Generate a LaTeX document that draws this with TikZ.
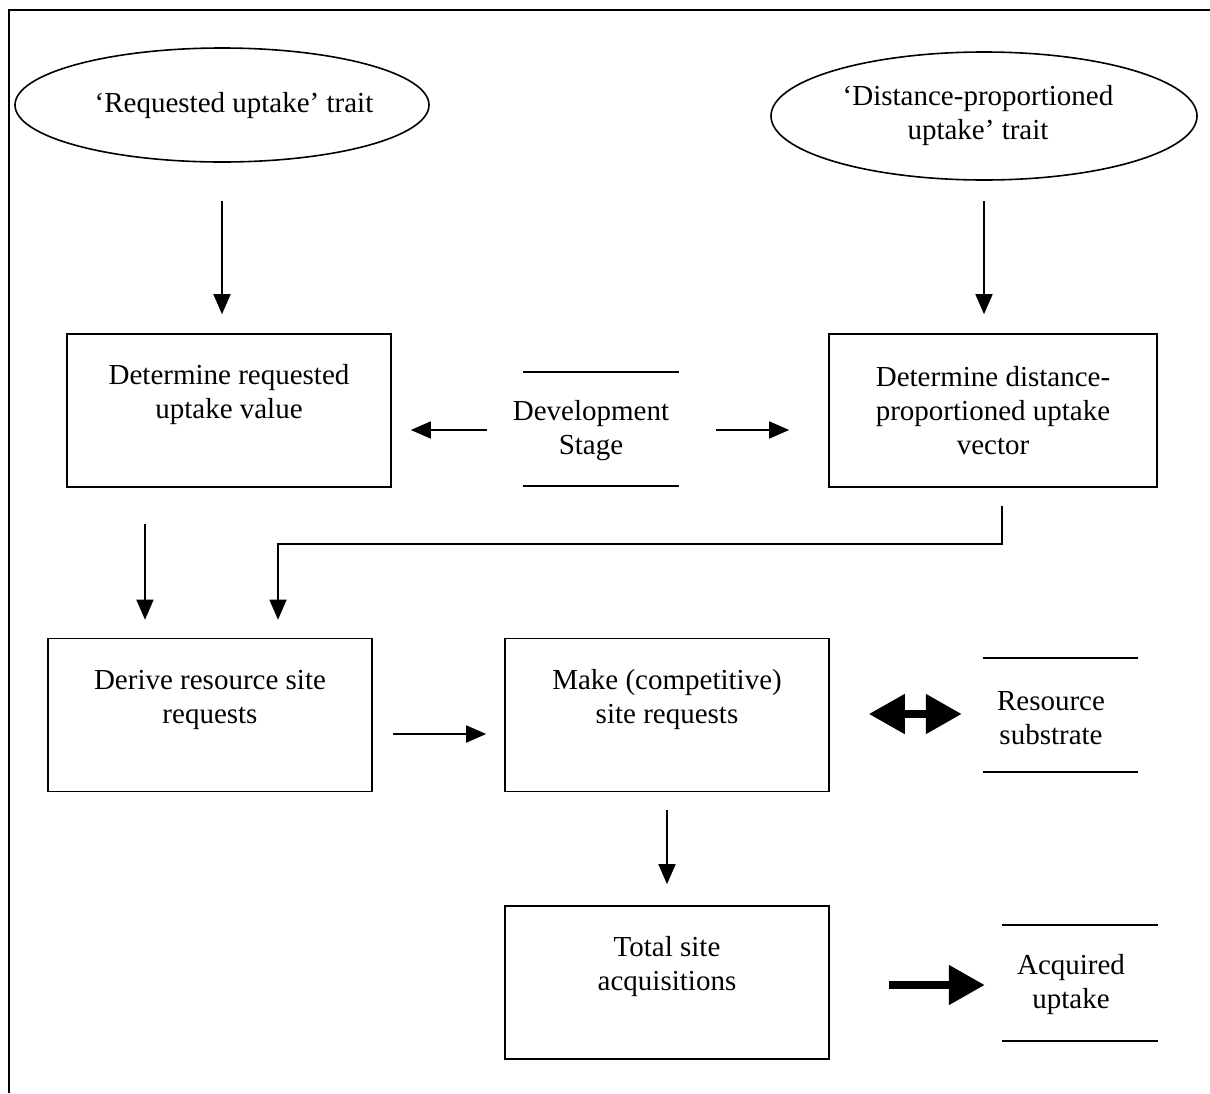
\documentclass[tikz,border=0pt]{standalone}
\usepackage{fontspec}
\setmainfont{Liberation Serif}
\usetikzlibrary{shapes.geometric,arrows.meta}
\begin{document}
\begin{tikzpicture}[x=1pt,y=-1pt,
  every node/.style={font=\fontsize{29}{34}\selectfont, align=center, inner sep=0pt},
  boxnode/.style={draw, line width=1.6pt, minimum width=324pt, minimum height=153pt},
  ovalnode/.style={draw, ellipse, line width=1.6pt},
  barnode/.style={minimum width=155pt, minimum height=114pt},
  thin/.style={line width=1.6pt, -{Triangle[length=20pt,width=17pt]}},
  fat/.style={line width=8pt, -{Triangle[length=36pt,width=38pt]}},
  fatboth/.style={line width=8pt, {Triangle[length=36pt,width=38pt]}-{Triangle[length=36pt,width=38pt]}},
  rule/.style={line width=1.6pt}
]
\useasboundingbox (0,0) rectangle (1210,1093);
\draw[line width=2pt] (1210,10) -- (9,10) -- (9,1093);

\node[ovalnode, minimum width=414pt, minimum height=114pt] (e1) at (222,105) {};
\node (e1t) at (234,106) {‘Requested uptake’ trait};
\node[ovalnode, minimum width=426pt, minimum height=128pt] (e2) at (984,116) {};
\node (e2t) at (978,116) {‘Distance-proportioned\\uptake’ trait};

\node[boxnode] (a) at (229,410.5) {};
\node (at) at (229,395) {Determine requested\\uptake value};
\node[boxnode, minimum width=328pt] (b) at (993,410.5) {};
\node (bt) at (993,411) {Determine distance-\\proportioned uptake\\vector};

\node[barnode] (dev) at (601,429) {};
\node (devt) at (591,431) {Development\\Stage};
\draw[rule] (dev.north west) -- (dev.north east);
\draw[rule] (dev.south west) -- (dev.south east);

\node[boxnode] (c) at (210,715) {};
\node (ct) at (210,700) {Derive resource site\\requests};
\node[boxnode] (d) at (667,715) {};
\node (dt) at (667,700) {Make (competitive)\\site requests};

\node[barnode] (res) at (1060.5,715) {};
\node (rest) at (1051,718) {Resource\\substrate};
\draw[rule] (res.north west) -- (res.north east);
\draw[rule] (res.south west) -- (res.south east);

\node[boxnode, minimum height=153pt] (e) at (667,982.5) {};
\node (et) at (667,967) {Total site\\acquisitions};

\node[barnode, minimum height=116pt, minimum width=156pt] (acq) at (1080,983) {};
\node (acqt) at (1071,985) {Acquired\\uptake};
\draw[rule] (acq.north west) -- (acq.north east);
\draw[rule] (acq.south west) -- (acq.south east);

\draw[thin, shorten <=38pt, shorten >=19pt] (e1.south) -- (a.north -| e1.south);
\draw[thin, shorten <=20pt, shorten >=19pt] (e2.south) -- (b.north -| e2.south);
\draw[thin, shorten <=36pt, shorten >=19pt] (dev.west |- 0,430) -- (a.east |- 0,430);
\draw[thin, shorten <=37pt, shorten >=39pt] (dev.east |- 0,430) -- (b.west |- 0,430);
\draw[thin, shorten <=36pt, shorten >=18pt] (a.south -| 145,0) -- (c.north -| 145,0);
\draw[thin, shorten <=18pt, shorten >=18pt] (b.south -| 1002,0) -- (1002,544) -- (278,544) -- (c.north -| 278,0);
\draw[thin, shorten <=20pt, shorten >=18pt] (c.east |- 0,734) -- (d.west |- 0,734);
\draw[thin, shorten <=18pt, shorten >=21pt] (d.south) -- (e.north);
\draw[fatboth, shorten <=39pt, shorten >=21pt] (d.east |- 0,714) -- (res.west |- 0,714);
\draw[fat, shorten <=59pt, shorten >=17pt] (e.east |- 0,985) -- (acq.west |- 0,985);
\end{tikzpicture}
\end{document}
